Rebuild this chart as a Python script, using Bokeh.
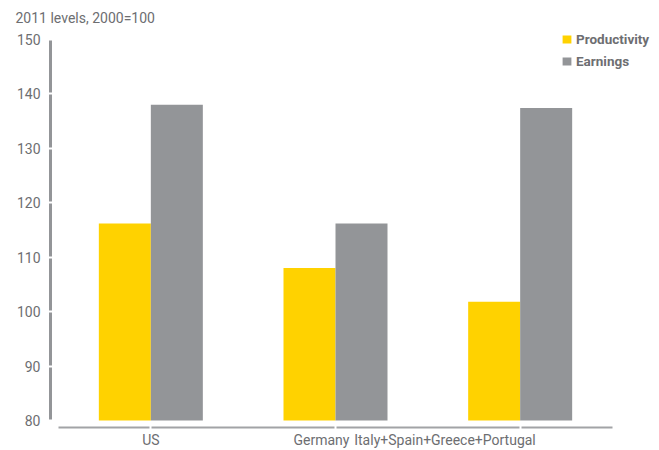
from bokeh.plotting import figure
from bokeh.models import Range1d, FixedTicker, LinearAxis, Legend, LegendItem, ColumnDataSource
from bokeh.transform import dodge
from bokeh.embed import file_html
from bokeh.resources import INLINE

# 2011 levels, indexed to 2000 = 100
categories = ["US", "Germany", "Italy+Spain+Greece+Portugal"]
productivity = [116.2, 108.0, 101.8]
earnings = [138.0, 116.2, 137.4]
y_ticks = [80, 90, 100, 110, 120, 130, 140, 150]

YELLOW = "#FFD200"
GREY = "#939598"
AXIS_GREY = "#a2a3a6"
TEXT = "#6d6e71"
FONT = "Roboto"

# layout geometry (pixels)
W, H = 659, 450
FRAME_LEFT, FRAME_TOP, FRAME_BOTTOM = 50, 30, 427
AXIS_X0, AXIS_X1 = 58, 612
Y_TOP_PX, Y_BASE_PX = 39, 420          # where 150 and 80 sit
px_per_cat = (AXIS_X1 - AXIS_X0) / len(categories)
px_per_unit = (Y_BASE_PX - Y_TOP_PX) / (y_ticks[-1] - y_ticks[0])
bar_w = 52 / px_per_cat
y_base = y_ticks[0]

x_start = -(AXIS_X0 - FRAME_LEFT) / px_per_cat
x_end = len(categories) + (W - AXIS_X1) / px_per_cat
y_start = y_base - (FRAME_BOTTOM - Y_BASE_PX) / px_per_unit
y_end = y_ticks[-1] + (Y_TOP_PX - FRAME_TOP) / px_per_unit

p = figure(width=W, height=H, output_backend="svg", toolbar_location=None,
           x_range=Range1d(x_start, x_end), y_range=Range1d(y_start, y_end),
           min_border_left=FRAME_LEFT, min_border_right=0,
           min_border_top=FRAME_TOP, min_border_bottom=H - FRAME_BOTTOM)
p.outline_line_color = None
p.grid.visible = False
p.background_fill_color = "white"
p.border_fill_color = "white"

centers = [i + 0.5 for i in range(len(categories))]
src = ColumnDataSource(dict(x=centers, prod=productivity, earn=earnings))

r_prod = p.vbar(x=dodge("x", -bar_w / 2), top="prod", bottom=y_base, width=bar_w,
                source=src, fill_color=YELLOW, line_color=None)
r_earn = p.vbar(x=dodge("x", bar_w / 2), top="earn", bottom=y_base, width=bar_w,
                source=src, fill_color=GREY, line_color=None)

# y axis: thick grey rule, broken by white ticks
yax = p.yaxis[0]
yax.ticker = FixedTicker(ticks=y_ticks)
yax.bounds = (y_ticks[0], y_ticks[-1])
yax.axis_line_color = GREY
yax.axis_line_width = 3
yax.major_tick_line_color = "white"
yax.major_tick_line_width = 2
yax.major_tick_in = 2
yax.major_tick_out = 2
yax.minor_tick_line_color = None
yax.major_label_standoff = 8
yax.major_label_text_font = FONT
yax.major_label_text_font_size = "14px"
yax.major_label_text_color = TEXT

# x axis: thin grey rule, broken at each group centre
xax = p.xaxis[0]
xax.ticker = FixedTicker(ticks=centers)
xax.bounds = (0, len(categories))
xax.axis_line_color = AXIS_GREY
xax.axis_line_width = 2
xax.major_tick_line_color = "white"
xax.major_tick_line_width = 2
xax.major_tick_in = 2
xax.major_tick_out = 2
xax.minor_tick_line_color = None
xax.major_label_standoff = 0
xax.major_label_text_font_size = "0px"

# category names on a second, line-less axis underneath
label_pos = [0.5, 1.424, 2.093]
cat_axis = LinearAxis(ticker=FixedTicker(ticks=label_pos),
                      major_label_overrides={pos: name for pos, name in zip(label_pos, categories)},
                      axis_line_color=None, major_tick_line_color=None,
                      minor_tick_line_color=None, major_label_standoff=-4,
                      major_label_text_font=FONT, major_label_text_font_size="14px",
                      major_label_text_color=TEXT)
p.add_layout(cat_axis, "below")

# title
p.title.text = "2011 levels, 2000=100"
p.title.align = "left"
p.title.offset = -35
p.title.standoff = 10
p.title.text_font = FONT
p.title.text_font_size = "14px"
p.title.text_font_style = "normal"
p.title.text_color = TEXT

legend = Legend(items=[LegendItem(label="Productivity", renderers=[r_prod]),
                       LegendItem(label="Earnings", renderers=[r_earn])],
                location=(511, 358), orientation="vertical",
                glyph_width=11, glyph_height=10, label_height=14, label_standoff=4,
                spacing=6, padding=0, margin=0, border_line_color=None,
                background_fill_alpha=0, label_text_font=FONT,
                label_text_font_style="bold", label_text_font_size="13.5px",
                label_text_color=TEXT)
p.add_layout(legend)

open("out.html", "w").write(file_html(p, INLINE))
